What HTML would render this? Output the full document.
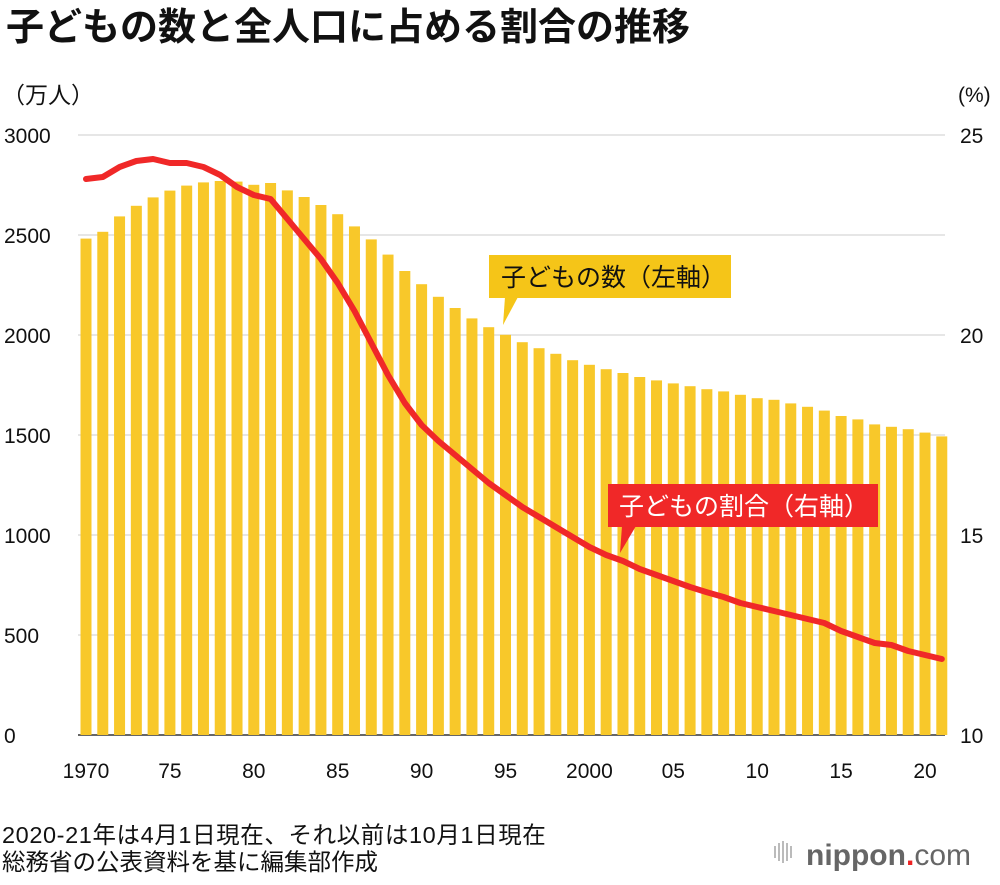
<!DOCTYPE html>
<html><head><meta charset="utf-8"><style>
body{margin:0;background:#fff;width:1000px;height:880px;overflow:hidden;font-family:"Liberation Sans","Noto Sans CJK JP",sans-serif;}
</style></head><body>
<svg id="chart" width="1000" height="880" xmlns="http://www.w3.org/2000/svg" font-family="Liberation Sans, Noto Sans CJK JP, sans-serif">
<text x="6" y="40" font-size="38" font-weight="bold" fill="#111">子どもの数と全人口に占める割合の推移</text>
<text x="2" y="103" font-size="23" fill="#111">（万人）</text>
<text x="958" y="102" font-size="21" fill="#111">(%)</text>
<g id="grid"></g><g id="bars"></g><g id="line"></g><g id="ticks"></g>
<g>
<rect x="489" y="255" width="242" height="43" fill="#f5c518"/>
<polygon points="505,297 518,297 503,325" fill="#f5c518"/>
<text x="501" y="286" font-size="25" fill="#111">子どもの数（左軸）</text>
</g>
<g>
<rect x="608" y="484" width="270" height="43" fill="#f02828"/>
<polygon points="622,526 636,526 620,553" fill="#f02828"/>
<text x="619" y="515" font-size="25" fill="#fff">子どもの割合（右軸）</text>
</g>
<text x="2" y="843" font-size="23.5" fill="#111" letter-spacing="0.6">2020-21年は4月1日現在、それ以前は10月1日現在</text>
<text x="2" y="870" font-size="23.5" fill="#111">総務省の公表資料を基に編集部作成</text>
<g>
<g fill="#bbb"><rect x="774" y="846" width="2" height="12"/><rect x="778" y="843" width="2" height="18"/><rect x="782" y="841" width="2" height="22"/><rect x="786" y="843" width="2" height="18"/><rect x="790" y="846" width="2" height="12"/></g>
<text x="806" y="865" font-size="30" fill="#666" font-weight="bold">nippon<tspan fill="#e22">.</tspan><tspan font-weight="normal">com</tspan></text>
</g>
</svg>
<script>
const years=[1970,1971,1972,1973,1974,1975,1976,1977,1978,1979,1980,1981,1982,1983,1984,1985,1986,1987,1988,1989,1990,1991,1992,1993,1994,1995,1996,1997,1998,1999,2000,2001,2002,2003,2004,2005,2006,2007,2008,2009,2010,2011,2012,2013,2014,2015,2016,2017,2018,2019,2020,2021];
const children=[2482,2516,2593,2646,2688,2722,2747,2763,2770,2767,2751,2760,2723,2690,2650,2604,2543,2478,2402,2320,2254,2191,2135,2083,2039,2001,1964,1934,1906,1874,1851,1829,1810,1790,1773,1758,1744,1729,1718,1701,1684,1676,1658,1641,1622,1595,1578,1553,1541,1529,1512,1493];
const ratio=[23.9,23.95,24.2,24.35,24.4,24.3,24.3,24.2,24.0,23.7,23.5,23.4,22.9,22.4,21.9,21.3,20.6,19.8,19.0,18.3,17.75,17.35,17.0,16.65,16.3,16.0,15.7,15.45,15.2,14.95,14.7,14.5,14.35,14.15,14.0,13.85,13.7,13.57,13.45,13.3,13.2,13.1,13.0,12.9,12.8,12.6,12.45,12.3,12.25,12.1,12.0,11.9];
const leftTicks=[0,500,1000,1500,2000,2500,3000];
const rightTicks=[10,15,20,25];
const xTickLabels=["1970","75","80","85","90","95","2000","05","10","15","20"];
const NS="http://www.w3.org/2000/svg";
const x=y=>86+(y-1970)*16.78;
const yL=v=>735-v*0.2;
const yR=v=>735-(v-10)*40;
function mk(tag,attrs,parent){const e=document.createElementNS(NS,tag);for(const k in attrs)e.setAttribute(k,attrs[k]);document.getElementById(parent).appendChild(e);return e;}
leftTicks.forEach((v,i)=>{
 const g=mk('line',{x1:78,x2:945,y1:yL(v),y2:yL(v),stroke:v===0?'#333':'#ccc','stroke-width':v===0?1.5:1},'grid');
 
 
 const t=mk('text',{x:4,y:yL(v)+8,'font-size':21,fill:'#111'},'ticks');t.textContent=v;
 
 
});
rightTicks.forEach(v=>{
 const t=mk('text',{x:960,y:yR(v)+8,'font-size':21,fill:'#111'},'ticks');t.textContent=v;
 
 
});
xTickLabels.forEach((s,i)=>{
 const t=mk('text',{x:x(1970+i*5),y:778,'font-size':21,fill:'#111','text-anchor':'middle'},'ticks');t.textContent=s;
 
 
});
years.forEach((yr,i)=>{
 const b=mk('rect',{x:x(yr)-5.5,y:yL(children[i]),width:11,height:735-yL(children[i]),fill:'#f8c82a'},'bars');
 
 
});
let d='';years.forEach((yr,i)=>{d+=(i?'L':'M')+x(yr).toFixed(1)+','+yR(ratio[i]).toFixed(1);});
const p=mk('path',{d:d,fill:'none',stroke:'#f02828','stroke-width':6,'stroke-linejoin':'round','stroke-linecap':'round'},'line');


</script>
</body></html>
